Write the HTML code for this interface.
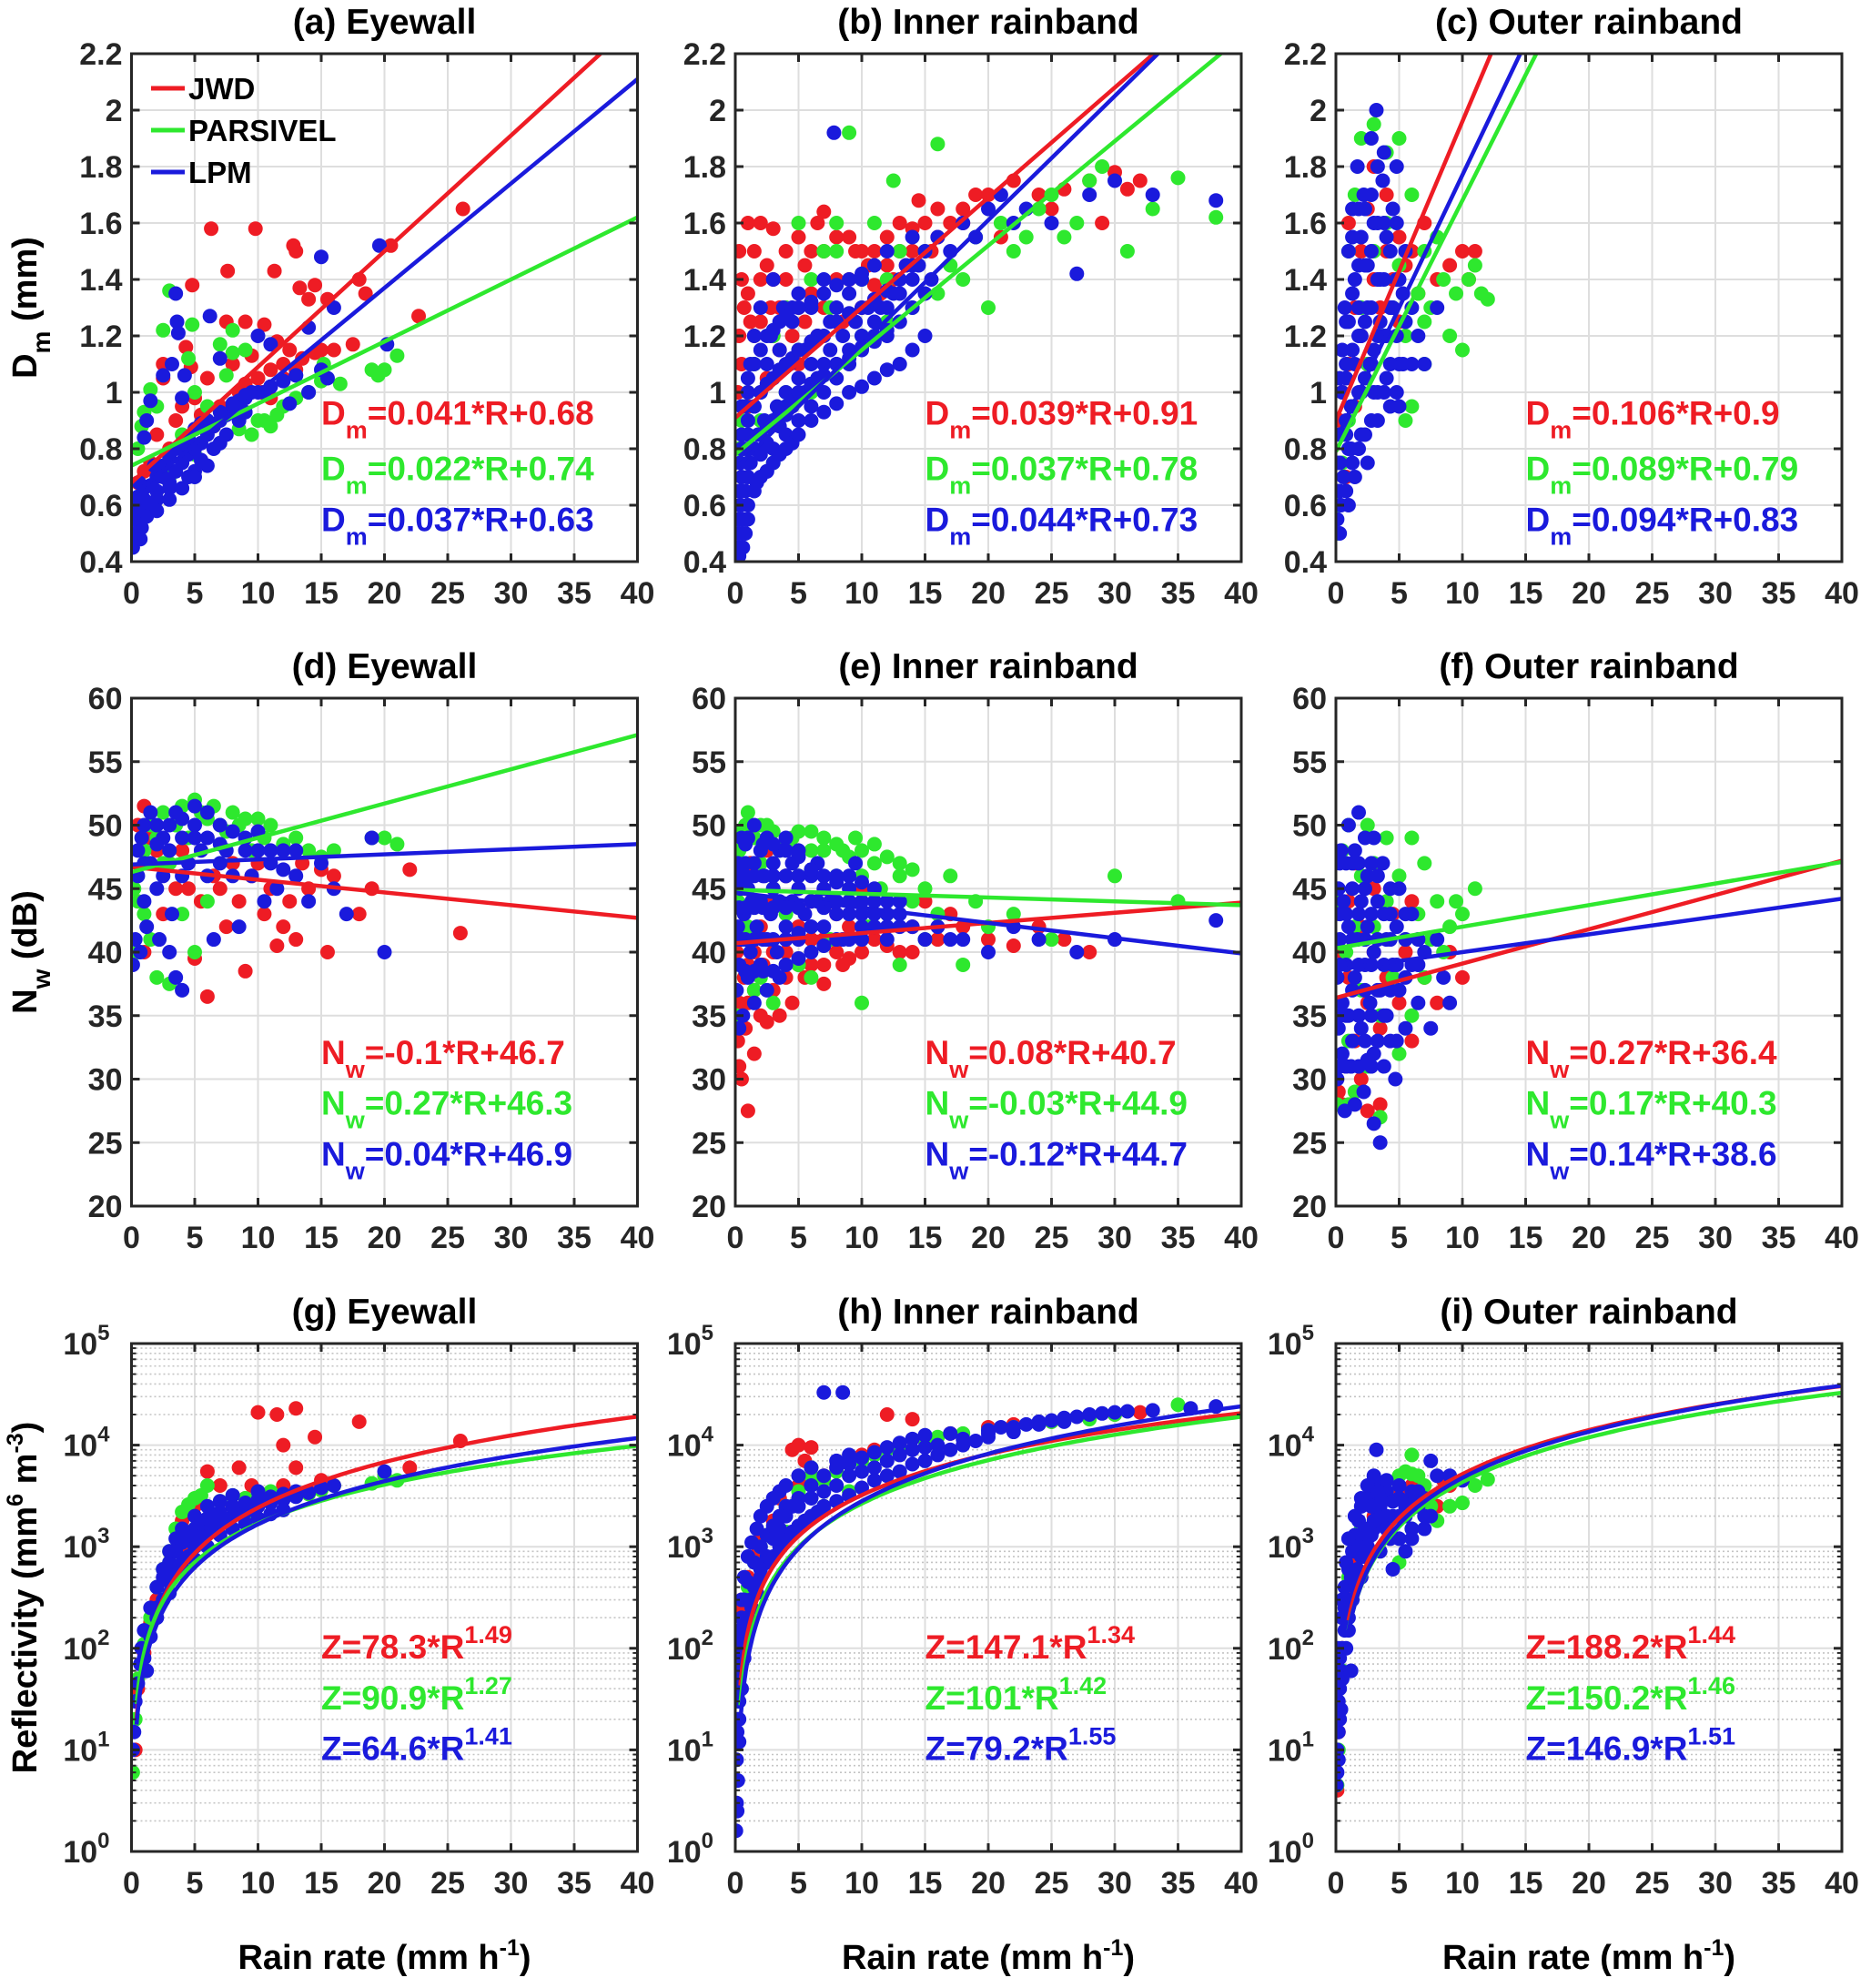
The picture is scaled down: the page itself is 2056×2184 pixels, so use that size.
<!DOCTYPE html>
<html><head><meta charset="utf-8"><style>
html,body{margin:0;padding:0;background:#fff;}
svg{display:block;font-family:"Liberation Sans",Arial,sans-serif;}
</style></head><body>
<svg id="fig" width="2056" height="2184" viewBox="0 0 2056 2184" xmlns="http://www.w3.org/2000/svg"></svg>
<script>
// ---- data ----
const xTicks=[0,5,10,15,20,25,30,35,40];
const dmTicks=[0.4,0.6,0.8,1,1.2,1.4,1.6,1.8,2,2.2];
const nwTicks=[20,25,30,35,40,45,50,55,60];
const zTicksExp=[0,1,2,3,4,5];
const titles=["(a) Eyewall","(b) Inner rainband","(c) Outer rainband","(d) Eyewall","(e) Inner rainband","(f) Outer rainband","(g) Eyewall","(h) Inner rainband","(i) Outer rainband"];
const seriesNames=["JWD","PARSIVEL","LPM"];

const aRed=[[0.3,0.6],[0.5,0.68],[1,0.72],[1.5,0.75],[2,0.85],[2.5,1.05],[2.5,1.1],[3,0.8],[3.5,0.9],[4,0.95],[4.3,1.16],[4.7,1.09],[4.8,1.38],[5,0.98],[5.5,0.92],[6,1.05],[6.3,1.58],[6.5,0.88],[7,0.95],[7.5,1.25],[7.6,1.43],[8,1.1],[8.5,1.0],[9,1.25],[9.5,1.13],[9.8,1.58],[10,1.05],[10.5,1.24],[11,1.08],[11.3,1.43],[11.5,1.18],[12,1.1],[12.5,1.15],[12.8,1.52],[13,1.5],[13.3,1.37],[14,1.33],[14.5,1.38],[15,1.15],[15.5,1.33],[16,1.15],[17.5,1.17],[18,1.4],[18.5,1.35],[20.5,1.52],[22.7,1.27],[26.2,1.65],[9,1.03],[10.3,1.0],[11,0.98],[12,1.05],[13,1.08],[13.5,1.12],[14.5,1.14]];
const aGreen=[[0.1,0.55],[0.5,0.8],[0.8,0.88],[1,0.93],[1.5,1.01],[2,0.95],[2.5,1.22],[3,1.36],[4,0.85],[4.5,1.12],[4.8,1.24],[5,1.0],[6,0.95],[7,0.9],[7,1.17],[7.5,1.06],[8,1.14],[8,1.22],[9,1.15],[9.5,0.85],[10,0.9],[10.5,0.9],[11,0.88],[12,0.95],[13,0.98],[14,1.0],[15,1.04],[15.2,1.1],[16.5,1.03],[19,1.08],[19.5,1.06],[20,1.08],[21,1.13],[3,0.7],[5,0.78],[8.5,0.87],[11.5,0.92]];
const aBlue=[[0.1,0.45],[0.2,0.5],[0.3,0.55],[0.4,0.6],[0.5,0.63],[0.6,0.68],[0.8,0.52],[1,0.58],[1,0.84],[1.2,0.9],[1.5,0.6],[1.5,0.97],[2,0.65],[2.5,0.7],[2.5,1.06],[3,0.68],[3.2,1.1],[3.5,0.72],[3.5,1.35],[3.6,1.25],[3.7,1.21],[4,0.75],[4,0.98],[4.2,1.06],[4.5,0.78],[5,0.8],[5,0.72],[5.5,0.82],[6,0.85],[6.2,1.27],[6.5,0.88],[7,0.9],[7,1.12],[7.5,0.92],[8,0.95],[8.5,0.97],[9,0.98],[9.5,1.0],[10,1.2],[10.5,1.0],[11,1.17],[11,1.02],[12,1.04],[12.5,0.96],[13,1.06],[14,1.23],[14,1.0],[15,1.48],[15,1.08],[15.5,1.05],[16,1.3],[19.6,1.52],[20.2,1.17],[2,0.62],[3,0.66],[4.5,0.7],[5.5,0.76],[6.5,0.8],[7.5,0.85],[8.5,0.9],[1.2,0.56],[0.7,0.48]];
const aBlueCore=[[0.3,0.48],[0.6,0.55],[1,0.62],[1.5,0.67],[2,0.7],[2.5,0.74],[3,0.77],[3.5,0.8],[4,0.82],[4.5,0.84],[5,0.87],[5.5,0.89],[6,0.9],[7,0.93],[8,0.96],[9,0.99],[10,1.0],[11,1.02],[12,1.04],[13,1.06],[3,0.62],[4,0.66],[5,0.7],[6,0.74],[2,0.58],[0.5,0.58],[1,0.66],[1.8,0.74],[7,0.82],[9,0.93]];

const bRed=[[0.2,1.0],[0.3,1.2],[0.5,1.1],[0.7,1.3],[1,1.6],[1,0.95],[1.5,1.5],[2,1.25],[2,1.6],[2.5,1.05],[3,1.4],[3,1.58],[3.5,1.15],[4,1.5],[4,1.3],[4.5,1.2],[5,1.55],[5,1.1],[5.5,1.45],[6,1.35],[6.5,1.6],[6.5,1.2],[7,1.5],[7.5,1.3],[8,1.55],[8.5,1.25],[9,1.4],[9.5,1.5],[10,1.3],[10.5,1.45],[11,1.5],[11.5,1.35],[12,1.55],[12.5,1.4],[13,1.6],[13.5,1.45],[14,1.5],[15,1.6],[15.5,1.5],[16,1.65],[17,1.6],[18,1.65],[19,1.7],[20,1.7],[21,1.55],[22,1.75],[24,1.7],[25,1.65],[26,1.72],[28,1.75],[29,1.6],[30,1.78],[31,1.72],[32,1.75],[1,1.35],[2.5,1.45],[3.5,1.3],[7,1.64],[14.5,1.68],[5.5,1.25]];
const bRedCore=[[0.5,1.4],[1.5,1.2],[2,1.4],[3,1.2],[4,1.4],[5,1.3],[6,1.5],[7,1.3],[8,1.4],[9,1.55],[10,1.5],[11,1.38],[12,1.45],[13,1.5],[14,1.58],[16,1.55],[18,1.6],[0.3,1.5],[1.2,1.25],[2.8,1.3]];
const bGreen=[[0.3,0.8],[0.5,0.9],[1,1.0],[1.5,1.1],[2,0.9],[3,1.2],[4,1.3],[5,1.15],[5,1.6],[6,1.4],[7,1.5],[7.5,1.3],[8,1.5],[9,1.92],[10,1.4],[11,1.6],[12,1.4],[12.5,1.75],[13,1.5],[14,1.3],[15,1.5],[16,1.88],[17,1.45],[18,1.4],[19,1.55],[20,1.3],[21,1.6],[22,1.5],[23,1.55],[24,1.65],[25,1.7],[26,1.55],[27,1.6],[28,1.75],[29,1.8],[31,1.5],[33,1.65],[35,1.76],[38,1.62],[8,1.6],[10,1.2],[6,1.0],[3,0.75],[4,1.0],[12,1.25],[16,1.35]];
const bBlue=[[0.1,0.4],[0.2,0.45],[0.2,0.55],[0.3,0.5],[0.3,0.65],[0.4,0.6],[0.4,0.75],[0.5,0.7],[0.5,0.85],[0.6,0.55],[0.7,0.8],[0.8,0.65],[0.8,0.95],[1,0.7],[1,0.85],[1,1.0],[1.2,0.75],[1.2,1.1],[1.5,0.8],[1.5,0.95],[1.5,1.2],[1.8,0.85],[2,0.78],[2,1.0],[2,1.3],[2.3,0.9],[2.5,1.1],[2.5,0.82],[2.8,1.2],[3,0.9],[3,1.05],[3,1.4],[3.3,0.95],[3.5,1.15],[3.5,0.88],[3.8,1.3],[4,1.0],[4,0.92],[4.3,1.1],[4.5,1.25],[4.5,0.95],[5,1.05],[5,1.35],[5,0.98],[5.5,1.15],[5.5,1.0],[6,1.1],[6,1.3],[6,1.02],[6.5,1.2],[6.5,1.05],[7,1.1],[7,1.4],[7.5,1.15],[7.5,1.25],[7.8,1.92],[8,1.1],[8,1.3],[8.5,1.2],[9,1.15],[9,1.35],[9.5,1.25],[10,1.2],[10,1.4],[10.5,1.3],[11,1.25],[11,1.45],[11.5,1.3],[12,1.3],[12,1.5],[12.5,1.35],[13,1.35],[13.5,1.45],[14,1.4],[14,1.55],[14.5,1.45],[15,1.5],[15.5,1.4],[16,1.55],[17,1.5],[18,1.6],[19,1.55],[20,1.65],[21,1.7],[22,1.6],[23,1.65],[25,1.6],[27,1.42],[28,1.7],[30,1.75],[33,1.7],[38,1.68],[9,1.1],[10,1.15],[11,1.18],[12,1.2],[13,1.25],[8,1.05],[7,1.0],[6,0.95],[4,0.85],[3,0.8],[5,0.9],[1.7,0.68],[2.5,0.72],[0.6,0.45],[1,0.55]];
const bBlueCore=[[0.5,0.5],[0.5,0.65],[0.5,0.8],[0.5,0.95],[1,0.6],[1,0.75],[1,0.9],[1,1.05],[1.5,0.65],[1.5,0.8],[1.5,0.95],[1.5,1.1],[2,0.7],[2,0.85],[2,1.0],[2,1.15],[2.5,0.72],[2.5,0.88],[2.5,1.03],[2.5,1.2],[3,0.75],[3,0.9],[3,1.05],[3,1.22],[3.5,0.78],[3.5,0.93],[3.5,1.08],[3.5,1.25],[4,0.8],[4,0.95],[4,1.1],[4,1.27],[4.5,0.82],[4.5,0.97],[4.5,1.12],[4.5,1.3],[5,0.85],[5,1.0],[5,1.15],[5,1.3],[6,0.9],[6,1.03],[6,1.18],[6,1.32],[7,0.93],[7,1.06],[7,1.2],[7,1.35],[8,0.96],[8,1.1],[8,1.25],[8,1.38],[9,1.0],[9,1.12],[9,1.28],[9,1.4],[10,1.02],[10,1.16],[10,1.3],[10,1.42],[11,1.05],[11,1.2],[11,1.33],[12,1.08],[12,1.22],[12,1.36],[13,1.1],[13,1.25],[13,1.4],[14,1.15],[14,1.3],[14,1.45],[15,1.2],[15,1.35],[0.3,0.42],[0.8,0.5]];

const cRed=[[0.3,0.9],[0.5,1.0],[1,1.1],[1,1.6],[1.5,1.3],[2,1.5],[2,1.2],[2.5,1.65],[3,1.4],[3,1.8],[3.5,1.3],[4,1.5],[4,1.7],[4.5,1.4],[5,1.55],[5,1.25],[5.5,1.45],[6,1.5],[6.5,1.35],[7,1.6],[8,1.4],[9,1.45],[10,1.5],[11,1.5],[10.5,1.4],[1.5,0.95],[0.8,0.7],[2.5,1.1]];
const cGreen=[[0.1,0.5],[0.3,0.6],[0.5,0.75],[1,0.9],[1,1.5],[1.5,1.7],[2,1.9],[2,1.3],[2.5,1.1],[3,1.95],[3,1.5],[3.5,1.2],[4,1.6],[4,1.85],[4.5,1.3],[5,1.9],[5,1.45],[5.5,1.2],[6,1.7],[6,0.95],[6.5,1.35],[7,1.5],[7,1.1],[7.5,1.3],[8,1.55],[8.5,1.4],[9,1.2],[9.5,1.35],[10,1.15],[10.5,1.4],[11,1.45],[11.5,1.35],[12,1.33],[5.5,0.9],[7,1.25]];
const cBlue=[[0.1,0.55],[0.2,0.65],[0.3,0.75],[0.4,0.6],[0.5,0.85],[0.5,1.0],[0.6,0.7],[0.8,0.9],[0.8,1.1],[1,0.6],[1,0.8],[1,1.25],[1,1.5],[1.2,0.95],[1.3,1.65],[1.5,0.7],[1.5,1.1],[1.5,1.4],[1.7,1.8],[2,0.85],[2,1.0],[2,1.2],[2,1.55],[2.2,1.7],[2.5,0.75],[2.5,1.3],[2.5,1.45],[2.8,1.9],[3,1.0],[3,1.15],[3,1.6],[3.2,2.0],[3.3,0.9],[3.5,1.25],[3.5,1.4],[3.7,1.75],[4,1.05],[4,1.2],[4,1.55],[4.3,0.95],[4.5,1.3],[4.5,1.65],[5,1.1],[5,1.4],[5,0.95],[5.5,1.25],[5.5,1.5],[6,1.1],[6,1.3],[6.5,1.2],[7,1.1],[8,1.3],[0.7,1.3],[1.8,1.3],[3.8,1.85],[2.7,1.1],[1.2,0.8],[4.8,1.8],[0.3,0.5]];
const cBlueCore=[[0.3,0.65],[0.3,0.85],[0.3,1.05],[0.8,0.65],[0.8,0.85],[0.8,1.05],[0.8,1.25],[1.3,0.75],[1.3,0.95],[1.3,1.15],[1.3,1.35],[1.3,1.55],[1.8,0.8],[1.8,1.0],[1.8,1.2],[1.8,1.45],[1.8,1.65],[2.3,0.85],[2.3,1.05],[2.3,1.25],[2.3,1.45],[2.3,1.65],[2.8,0.9],[2.8,1.1],[2.8,1.3],[2.8,1.5],[2.8,1.7],[3.3,1.0],[3.3,1.2],[3.3,1.4],[3.3,1.6],[3.3,1.8],[3.8,1.0],[3.8,1.2],[3.8,1.4],[3.8,1.6],[4.3,1.1],[4.3,1.3],[4.3,1.5],[4.8,1.0],[4.8,1.2],[4.8,1.4],[4.8,1.6],[5.3,1.1],[5.3,1.35],[0.1,0.75],[0.5,1.15]];

const dRed=[[0.5,50],[1,51.5],[1.5,49],[2,48],[3,47],[4,48],[4.5,45],[5,39.5],[5.5,44],[6,36.5],[6.5,46],[7,45],[8,47],[8.5,44],[9,38.5],[9.5,46],[10,47],[11,45],[11.5,40.5],[12,42],[12.5,44],[13,41],[13.5,47],[14,45],[15,46.5],[15.5,40],[16,46],[18,43],[19,45],[22,46.5],[26,41.5],[10.5,43],[7.5,42],[3.5,45],[2.5,43],[1,40]];
const dGreen=[[0.2,45],[0.5,44],[1,48],[1.5,50],[2,49],[2.5,51],[3,47],[3.5,50],[4,51.5],[4.5,49],[5,52],[5.5,51],[6,50.5],[6.5,51.5],[7,50],[7.5,49.5],[8,51],[8.5,50],[9,50.5],[9.5,48],[10,50.5],[10.5,49],[11,50],[12,48.5],[13,49],[14,48],[15,47.5],[16,48],[19,49],[20,49],[21,48.5],[1,43],[2,38],[3,37.5],[4,43],[5,40],[6,44],[1.5,41],[2.5,47],[0.5,40]];
const dBlue=[[0.1,39],[0.3,41],[0.5,46],[0.8,49],[1,44],[1,50],[1.5,47],[1.5,51],[2,45],[2,50],[2.5,49],[3,40],[3,48],[3.5,38],[3.5,51],[4,37],[4,49],[4.5,47],[5,50],[5,51.5],[5.5,48],[6,46],[6,49],[6.5,41],[7,47],[7,50],[7.5,48],[8,46],[8.5,42],[9,49],[9.5,46],[10,48],[10.5,44],[11,47],[11.5,45],[12,48],[13,46],[14,44],[15,47],[16,45],[17,43],[19,49],[20,40],[1.2,42],[0.7,40],[2.2,41],[3.2,43]];
const dBlueCore=[[0.5,48],[1,47],[2,48.5],[3,50],[4,50.5],[5,49],[6,51],[7,48.5],[8,49.5],[9,48],[10,49.5],[2.5,46],[4,46],[11,48],[12,46.5],[13,48]];

const eRed=[[0.2,33],[0.3,31],[0.5,30],[0.7,38],[1,27.5],[1,36],[1.5,32],[1.5,40],[2,35],[2,42],[2.5,34.5],[3,37],[3,44],[3.5,35],[4,40],[4,46],[4.5,36],[5,42],[5.5,38],[6,44],[6,39],[7,41],[7,37.5],[8,43],[8.5,39],[9,42],[10,40],[10,45],[11,41],[12,43],[13,40],[14,42],[15,44],[16,41],[17,43],[18,42],[20,41],[22,40.5],[24,42],[26,41],[28,40],[0.8,45],[1.2,47],[2.5,48],[0.1,40]];
const eRedCore=[[0.3,36],[0.8,34],[1.5,37],[2.2,39],[3,40],[4,38],[5,39],[6,41],[7,39],[8,40],[9,39.5],[10,41],[12,40.5],[14,40],[0.5,42],[1,39]];
const eGreen=[[0.1,35],[0.2,44],[0.3,48],[0.5,46],[0.8,50],[1,51],[1,42],[1.5,49],[2,47],[2,38],[2.5,50],[3,45],[3,36],[3.5,48],[4,43],[4.5,49],[5,46],[5,39],[6,48],[6.5,44],[7,49],[7.5,41],[8,46],[8.5,48],[9,44],[9.5,49],[10,46],[10.5,42],[11,47],[11.5,45],[12,43],[13,46],[14,44],[15,41],[15,45],[16,43],[17,46],[18,39],[19,44],[20,42],[22,43],[25,41],[30,46],[35,44],[10,36],[6,38],[1.5,37],[13,39]];
const eGreenCore=[[0.3,49.5],[1,49],[2,50],[3,49.5],[4,48.5],[5,49.5],[6,49.5],[7,48],[8,48.5],[9,47.5],[10,48],[11,48.5],[12,47.5],[13,47],[14,46.5]];
const eBlue=[[0.1,37],[0.2,42],[0.2,47],[0.3,39],[0.4,45],[0.5,49],[0.5,41],[0.7,43],[0.8,47],[1,38],[1,45],[1,49],[1.2,40],[1.3,44],[1.5,47],[1.5,50],[1.7,42],[2,39],[2,44],[2,48],[2.3,46],[2.5,41],[2.5,49],[2.8,43],[3,45],[3,47],[3.3,40],[3.5,44],[3.5,48],[4,42],[4,46],[4,49],[4.5,44],[4.5,47],[5,41],[5,45],[5,48],[5.5,43],[6,46],[6,42],[6.5,44],[6.5,47],[7,45],[7,42],[7.5,44],[8,46],[8,43],[8.5,41],[9,45],[9,43],[9.5,47],[10,44],[10,42],[11,43],[11,45],[12,44],[12,41],[13,43],[14,42],[15,41],[16,42],[17,41],[18,41],[20,40],[22,42],[24,41],[27,40],[30,41],[38,42.5],[0.3,34],[0.6,35],[1.5,36],[2.5,37],[3.5,38]];
const eBlueCore=[[0.3,41],[0.3,43.5],[0.3,46],[0.8,38.5],[0.8,41],[0.8,43.5],[0.8,46],[0.8,48.5],[1.5,38.5],[1.5,41],[1.5,43.5],[1.5,46],[2.2,38.5],[2.2,41],[2.2,43.5],[2.2,46],[2.2,48.5],[3,38.5],[3,41],[3,43.5],[3,46],[3,48.5],[4,39],[4,41],[4,43.5],[4,46],[4,48],[5,39.5],[5,41.5],[5,43.5],[5,46],[5,47.5],[6,40],[6,42],[6,44],[6,46.5],[7,40.5],[7,43.5],[7,46],[8,41],[8,44],[8,45.5],[9,41],[9,44],[9,46],[10,41],[10,43],[10,45.5],[11,42],[11,44],[12,42],[12,43],[13,42],[13,44]];

const fRed=[[0.2,29],[0.3,35],[0.5,40],[0.5,28],[1,38],[1,44],[1.5,33],[1.5,47],[2,30],[2,42],[2.5,36],[2.5,27.5],[3,45],[3,40],[3.5,34],[4,38],[4.5,43],[5,36],[5.5,40],[6,33],[6,44],[7,38],[8,36],[9,40],[10,38],[0.8,31],[3.5,28]];
const fGreen=[[0.1,28],[0.2,36],[0.3,44],[0.5,48],[0.8,40],[1,50],[1,33],[1.5,42],[1.5,29],[2,46],[2,37],[2.5,50],[2.5,31],[3,42],[3,47],[3.5,35],[4,44],[4,49],[4.5,38],[5,46],[5,32],[5.5,41],[6,49],[6,35],[6.5,43],[7,47],[7,38],[7.5,41],[8,44],[8.5,40],[9,42],[9.5,44],[10,43],[11,45],[3.5,27],[1,28]];
const fBlue=[[0.1,30],[0.1,38],[0.2,34],[0.2,45],[0.3,41],[0.4,48],[0.5,36],[0.5,32],[0.6,44],[0.8,39],[0.8,47],[1,35],[1,42],[1,50],[1.2,31],[1.3,45],[1.5,38],[1.5,48],[1.7,41],[1.8,51],[2,34],[2,44],[2.2,29],[2.3,39],[2.5,46],[2.5,42],[2.7,36],[3,49],[3,32],[3,40],[3.3,44],[3.5,37],[3.5,25],[3.7,47],[4,41],[4,35],[4.3,43],[4.5,39],[4.7,30],[5,45],[5,37],[5.5,41],[5.5,34],[6,43],[6,39],[6.5,36],[7,40],[7.5,34],[8,41],[8.5,38],[9,36],[3,26.5],[1.5,28],[0.7,27.5],[2.5,31.5]];
const fBlueCore=[[0.3,31],[0.3,35],[0.3,39],[0.3,43],[0.3,47],[0.8,31],[0.8,35],[0.8,43],[1.3,33],[1.3,37],[1.3,41],[1.3,47],[1.8,31],[1.8,35],[1.8,39],[1.8,43],[1.8,47],[2.3,33],[2.3,37],[2.3,41],[2.3,45],[2.3,49],[2.8,31],[2.8,35],[2.8,39],[2.8,43],[2.8,47],[3.3,33],[3.3,37],[3.3,41],[3.3,46],[3.8,31],[3.8,35],[3.8,39],[3.8,43],[4.3,33],[4.3,37],[4.3,41],[4.3,45],[4.8,33],[4.8,39],[4.8,42],[5.5,38],[5.5,43],[6.5,39],[6.5,41]];

const gRed=[[0.3,10],[0.5,40],[1,90],[1.5,180],[2,300],[3,600],[4,1000],[5,1300],[5,2500],[6,1500],[6,5500],[7,2000],[8,2500],[9,3000],[9.5,4000],[10,21000],[10,3500],[11,3000],[11.5,20000],[12,4000],[12,10000],[13,23000],[13,6000],[14,3500],[14.5,12000],[15,4500],[16,4000],[18,17000],[20,5000],[22,6000],[26,11000],[7,4000],[8.5,6000],[4,1800]];
const gGreen=[[0.1,6],[0.3,20],[0.5,50],[1,110],[1.5,200],[2,400],[2.5,600],[3,900],[3.5,1500],[4,2200],[4.5,2600],[5,3000],[5.5,3200],[6,4000],[7,2800],[8,3200],[9,3000],[10,2800],[11,3500],[12,3000],[13,3200],[14,3300],[15,3600],[16,4000],[19,4200],[20,5000],[21,4500],[3,700],[5,1500],[7,1800],[9,2000]];
const gBlue=[[0.1,10],[0.2,15],[0.3,30],[0.5,45],[0.7,70],[1,80],[1,150],[1.5,130],[1.5,250],[2,200],[2,400],[2.5,300],[2.5,600],[3,450],[3,900],[3.5,550],[3.5,1200],[4,700],[4,1500],[4.5,800],[5,1000],[5,2000],[5.5,1200],[6,1400],[6,2500],[6.5,1500],[7,1700],[7,2800],[7.5,1800],[8,2000],[8,3200],[8.5,2100],[9,2200],[9.5,2400],[10,2500],[10,3500],[11,2700],[12,2900],[13,3100],[14,3400],[15,3800],[16,4000],[20,5500],[0.8,100],[1.2,60]];
const gBlueCore=[[2,250],[2.5,500],[3,700],[3.5,900],[4,1100],[4.5,1300],[5,1500],[5.5,1700],[6,1900],[6.5,2000],[7,2200],[8,2500],[9,2700],[10,2900],[11,3100],[12,3300],[13,3500],[3,350],[4,550],[5,750],[6,1000],[7,1300],[8,1500],[9,1700],[10,1900],[11,2100],[12,2300]];

const hRed=[[0.1,60],[0.2,100],[0.3,250],[0.5,300],[1,500],[1.5,800],[2,1200],[3,1800],[4,2500],[4.5,9000],[5,4000],[5,10000],[6,4500],[6,9500],[7,5000],[8,6000],[9,7000],[10,8000],[12,20000],[11,9000],[13,10000],[14,18000],[15,12000],[17,13000],[20,15000],[22,16000],[25,17000],[28,19000],[30,20000],[32,21000],[5.5,7000],[3.5,3000]];
const hGreen=[[0.2,30],[0.5,150],[1,400],[1.5,700],[2,1000],[3,1500],[4,2500],[5,3500],[6,5000],[6,6000],[7,4500],[8,5500],[9,6500],[10,7000],[11,8000],[12,9000],[13,9500],[15,11000],[16,12000],[18,13000],[20,14000],[22,15000],[25,17000],[28,18000],[30,20000],[35,25000],[4,1400],[7,2500],[9,3500]];
const hBlue=[[0.05,1.6],[0.1,3],[0.1,8],[0.15,15],[0.2,20],[0.2,40],[0.3,30],[0.3,70],[0.4,60],[0.4,120],[0.5,90],[0.5,200],[0.7,150],[0.7,300],[1,200],[1,450],[1.2,300],[1.5,400],[1.5,700],[2,500],[2,1000],[2.5,700],[2.5,1300],[3,800],[3,1600],[3.5,1000],[3.5,2000],[4,1200],[4,2500],[4.5,1400],[5,1600],[5,3000],[5.5,1800],[6,2000],[6,4000],[6.5,2200],[7,2500],[7,5000],[7,33000],[8,2800],[8,6000],[8.5,33000],[9,3200],[9,6500],[10,3800],[10,7500],[11,4500],[11,8500],[12,5000],[12,9500],[13,5500],[13,10500],[14,6500],[14,11500],[15,7000],[15,12500],[16,8000],[17,9000],[17,13000],[18,10000],[19,11000],[20,12000],[20,14000],[21,15000],[22,13500],[23,16000],[24,17000],[25,17500],[26,18500],[27,19000],[28,20000],[29,20500],[30,21000],[31,21500],[33,22000],[36,23000],[38,24000],[0.1,5],[0.3,12]];
const hBlueCore=[[0.2,5],[0.2,50],[0.3,20],[0.3,150],[0.5,40],[0.5,300],[0.7,80],[0.7,500],[1,150],[1,800],[1.3,250],[1.3,1100],[1.7,350],[1.7,1500],[2,600],[2,2000],[2.5,800],[2.5,2500],[3,1200],[3,3000],[3.5,1500],[3.5,3500],[4,2000],[4,4000],[4.5,2500],[5,2500],[5,5000],[6,3000],[6,6000],[7,3500],[8,4000],[8,7000],[9,5000],[9,8000],[10,5500],[11,6000],[12,7000],[13,8000],[14,9000],[15,9500],[16,10000],[18,11500],[20,13000],[22,15000],[24,16000],[26,17000],[0.1,15],[0.15,2.5]];

const iRed=[[0.1,4],[0.2,15],[0.5,100],[1,300],[1.5,700],[2,1000],[3,2000],[4,3000],[5,3500],[6,4000],[7,3000],[8,2500],[8.5,4500],[9,4000],[0.3,50]];
const iGreen=[[0.1,4.5],[0.2,10],[0.5,60],[0.8,200],[1,500],[1.5,1000],[2,1500],[3,2500],[4,3500],[5,5000],[5.5,5500],[6,5200],[6,8000],[6.5,5000],[7,4000],[7.5,2500],[8,1800],[9,2500],[10,2700],[11,4000],[12,4600],[5,700],[6,1500]];
const iBlue=[[0.05,4.5],[0.1,6],[0.1,10],[0.2,15],[0.2,30],[0.3,40],[0.3,80],[0.4,60],[0.5,100],[0.5,200],[0.7,150],[0.7,400],[1,200],[1,600],[1.2,300],[1.3,900],[1.5,400],[1.5,1300],[1.7,600],[1.8,1800],[2,500],[2,2500],[2.2,800],[2.5,1000],[2.5,3000],[2.8,1300],[3,1500],[3,4500],[3.2,9000],[3.3,2000],[3.5,2500],[3.5,4000],[3.8,1600],[4,2000],[4,3500],[4.3,1200],[4.5,2800],[4.5,600],[5,2000],[5,4000],[5.5,2500],[5.5,900],[6,3000],[6,1500],[6.5,3500],[7,2000],[7.5,2000],[7.5,7000],[8,5000],[9,5000],[10,4500],[0.4,25],[0.8,100]];
const iBlueCore=[[0.2,8],[0.3,20],[0.5,50],[0.5,300],[0.8,700],[1,150],[1,1200],[1.3,300],[1.5,500],[1.5,2000],[2,800],[2,3000],[2.5,1200],[2.5,4000],[3,1800],[3,5000],[3.5,900],[3.5,3000],[4,1500],[4,4500],[4.5,2000],[5,1200],[5,3000],[5.5,2000],[6,1200],[6,3500],[6.5,2500],[7,1500],[7,3000],[1.2,60],[0.1,20],[0.2,100],[0.7,250],[1.2,500],[1.8,1000],[2.3,1500],[2.8,2500],[3.3,3500]];

// fit coefficients
const aFit=[[0.041,0.68],[0.022,0.74],[0.037,0.63]];
const bFit=[[0.039,0.91],[0.037,0.78],[0.044,0.73]];
const cFit=[[0.106,0.9],[0.089,0.79],[0.094,0.83]];
const dFit=[[-0.1,46.7],[0.27,46.3],[0.04,46.9]];
const eFit=[[0.08,40.7],[-0.03,44.9],[-0.12,44.7]];
const fFit=[[0.27,36.4],[0.17,40.3],[0.14,38.6]];
const gFit=[[78.3,1.49],[90.9,1.27],[64.6,1.41]];
const hFit=[[147.1,1.34],[101,1.42],[79.2,1.55]];
const iFit=[[188.2,1.44],[150.2,1.46],[146.9,1.51]];
const zFitStart=[0.4,0.4,1];

// ---- layout ----
const NS="http://www.w3.org/2000/svg";
const svg=document.getElementById('fig');
const COLS=[144.5,808,1468], ROWS=[59,767,1476], W=556, H=558;
const COLORS=["#ee1c24","#2ee82e","#1a1adc"];
const AX="#262626";
function mk(tag,attrs,parent){const e=document.createElementNS(NS,tag);for(const k in attrs)e.setAttribute(k,attrs[k]);(parent||svg).appendChild(e);return e;}

const panels=[
 {pts:[aRed,aGreen,aBlue.concat(aBlueCore)],fit:aFit,kind:'dm'},
 {pts:[bRed.concat(bRedCore),bGreen,bBlue.concat(bBlueCore)],fit:bFit,kind:'dm'},
 {pts:[cRed,cGreen,cBlue.concat(cBlueCore)],fit:cFit,kind:'dm'},
 {pts:[dRed,dGreen,dBlue.concat(dBlueCore)],fit:dFit,kind:'nw'},
 {pts:[eRed.concat(eRedCore),eGreen.concat(eGreenCore),eBlue.concat(eBlueCore)],fit:eFit,kind:'nw'},
 {pts:[fRed,fGreen,fBlue.concat(fBlueCore)],fit:fFit,kind:'nw'},
 {pts:[gRed,gGreen,gBlue.concat(gBlueCore)],fit:gFit,kind:'z'},
 {pts:[hRed,hGreen,hBlue.concat(hBlueCore)],fit:hFit,kind:'z'},
 {pts:[iRed,iGreen,iBlue.concat(iBlueCore)],fit:iFit,kind:'z'}
];

panels.forEach((p,idx)=>{
  const col=idx%3,row=Math.floor(idx/3);
  const x0=COLS[col],y0=ROWS[row];
  const sx=v=>x0+v/40*W;
  let sy;
  if(p.kind==='dm') sy=v=>y0+H-(v-0.4)/1.8*H;
  else if(p.kind==='nw') sy=v=>y0+H-(v-20)/40*H;
  else sy=v=>y0+H-Math.log10(Math.max(v,1e-3))/5*H;
  const g=mk('g',{});
  
  
  const cid='clip'+idx;
  const cp=mk('clipPath',{id:cid},g);mk('rect',{x:x0,y:y0,width:W,height:H},cp);
  const grid=mk('g',{},g);
  
  
  xTicks.forEach(t=>mk('line',{x1:sx(t),x2:sx(t),y1:y0,y2:y0+H,stroke:'#dedede','stroke-width':2},grid));
  let yt=[];
  if(p.kind==='dm') yt=dmTicks; else if(p.kind==='nw') yt=nwTicks; else yt=zTicksExp.map(e=>Math.pow(10,e));
  if(p.kind==='z'){
    for(let e=0;e<5;e++)for(let m=2;m<10;m++){const v=m*Math.pow(10,e);mk('line',{x1:x0,x2:x0+W,y1:sy(v),y2:sy(v),stroke:'#c4c4c4','stroke-width':1.6,'stroke-dasharray':'2,3'},grid);}
  }
  yt.forEach(t=>mk('line',{x1:x0,x2:x0+W,y1:sy(t),y2:sy(t),stroke:'#dedede','stroke-width':2},grid));
  const pg=mk('g',{'clip-path':'url(#'+cid+')'},g);
  p.pts.forEach((arr,si)=>{
    arr.forEach(d=>{
      const c=mk('circle',{cx:sx(d[0]),cy:sy(d[1]),r:8,fill:COLORS[si]},pg);
      
      
    });
  });
  p.fit.forEach((f,si)=>{
    let d='';
    if(p.kind==='z'){
      const xs=zFitStart[col];
      for(let k=0;k<=120;k++){const x=xs+(40-xs)*Math.pow(k/120,1.8);const y=f[0]*Math.pow(x,f[1]);d+=(k?'L':'M')+sx(x).toFixed(1)+','+sy(y).toFixed(1);}
    } else {
      d='M'+sx(0)+','+sy(f[1])+'L'+sx(40)+','+sy(f[0]*40+f[1]);
    }
    const l=mk('path',{d:d,stroke:COLORS[si],'stroke-width':4.5,fill:'none','clip-path':'url(#'+cid+')'},g);
    
    
  });
  mk('rect',{x:x0,y:y0,width:W,height:H,fill:'none',stroke:AX,'stroke-width':3},g);
  const tl=9;
  xTicks.forEach(t=>{
    mk('line',{x1:sx(t),x2:sx(t),y1:y0+H,y2:y0+H-tl,stroke:AX,'stroke-width':3},g);
    mk('line',{x1:sx(t),x2:sx(t),y1:y0,y2:y0+tl,stroke:AX,'stroke-width':3},g);
    const tx=mk('text',{x:sx(t),y:y0+H+46,'text-anchor':'middle','font-size':34,'font-weight':'bold',fill:AX},g);
    tx.textContent=t;
    
    
  });
  yt.forEach((t,i)=>{
    mk('line',{x1:x0,x2:x0+tl,y1:sy(t),y2:sy(t),stroke:AX,'stroke-width':3},g);
    mk('line',{x1:x0+W,x2:x0+W-tl,y1:sy(t),y2:sy(t),stroke:AX,'stroke-width':3},g);
    const tx=mk('text',{x:x0-10,y:sy(t)+12,'text-anchor':'end','font-size':34,'font-weight':'bold',fill:AX},g);
    if(p.kind==='z'){
      tx.setAttribute('x',x0-24);
      tx.appendChild(document.createTextNode('10'));
      const s=mk('tspan',{dy:-16,'font-size':24},tx);s.textContent=zTicksExp[i];
    } else tx.textContent=t;
    
    
  });
  if(p.kind==='z'){
    for(let e=0;e<5;e++)for(let m=2;m<10;m++){const v=m*Math.pow(10,e);
      mk('line',{x1:x0,x2:x0+5,y1:sy(v),y2:sy(v),stroke:AX,'stroke-width':2},g);
      mk('line',{x1:x0+W,x2:x0+W-5,y1:sy(v),y2:sy(v),stroke:AX,'stroke-width':2},g);}
  }
  const tt=mk('text',{x:x0+W/2,y:y0-22,'text-anchor':'middle','font-size':39,'font-weight':'bold',fill:'#000'},g);
  tt.textContent=titles[idx];
  
  
  const ex=x0+0.375*W;
  const eys=p.kind==='z'?[0.62,0.72,0.82]:(p.kind==='dm'?[0.73,0.84,0.94]:[0.72,0.82,0.92]);
  p.fit.forEach((f,si)=>{
    const t=mk('text',{x:ex,y:y0+eys[si]*H,'font-size':37,'font-weight':'bold',fill:COLORS[si]},g);
    
    
    if(p.kind==='z'){
      t.appendChild(document.createTextNode('Z='+f[0]+'*R'));
      const s=mk('tspan',{dy:-17,'font-size':27},t);s.textContent=f[1].toFixed(2);
    } else {
      const v=p.kind==='dm'?'D':'N', sub=p.kind==='dm'?'m':'w';
      t.appendChild(document.createTextNode(v));
      const s=mk('tspan',{dy:15,'font-size':27},t);s.textContent=sub;
      const r=mk('tspan',{dy:-15},t);r.textContent='='+f[0]+'*R+'+f[1];
    }
  });
});

const LEG=mk('g',{});


seriesNames.forEach((n,i)=>{
  const y=97+i*46;
  mk('line',{x1:166,x2:203,y1:y,y2:y,stroke:COLORS[i],'stroke-width':5},LEG);
  const t=mk('text',{x:207,y:y+12,'font-size':33,'font-weight':'bold',fill:'#000'},LEG);
  t.textContent=n;
  
  
});

function ylab(cy,parts,name){
  const t=mk('text',{transform:'translate(40,'+cy+') rotate(-90)','text-anchor':'middle','font-size':38,'font-weight':'bold',fill:'#000'});
  
  
  parts.forEach(pp=>{const s=mk('tspan',pp[1],t);s.textContent=pp[0];});
}
ylab(ROWS[0]+H/2,[['D',{}],['m',{dy:15,'font-size':28}],[' (mm)',{dy:-15}]],'y-axis-title-dm');
ylab(ROWS[1]+H/2,[['N',{}],['w',{dy:15,'font-size':28}],[' (dB)',{dy:-15}]],'y-axis-title-nw');
ylab(ROWS[2]+H/2,[['Reflectivity (mm',{}],['6',{dy:-15,'font-size':25}],[' m',{dy:15}],['-3',{dy:-15,'font-size':25}],[')',{dy:15}]],'y-axis-title-reflectivity');
COLS.forEach(x0=>{
  const t=mk('text',{x:x0+W/2,y:2163,'text-anchor':'middle','font-size':38,'font-weight':'bold',fill:'#000'});
  
  
  t.appendChild(document.createTextNode('Rain rate (mm h'));
  const s=mk('tspan',{dy:-15,'font-size':25},t);s.textContent='-1';
  const e=mk('tspan',{dy:15},t);e.textContent=')';
});
</script>
</body></html>
